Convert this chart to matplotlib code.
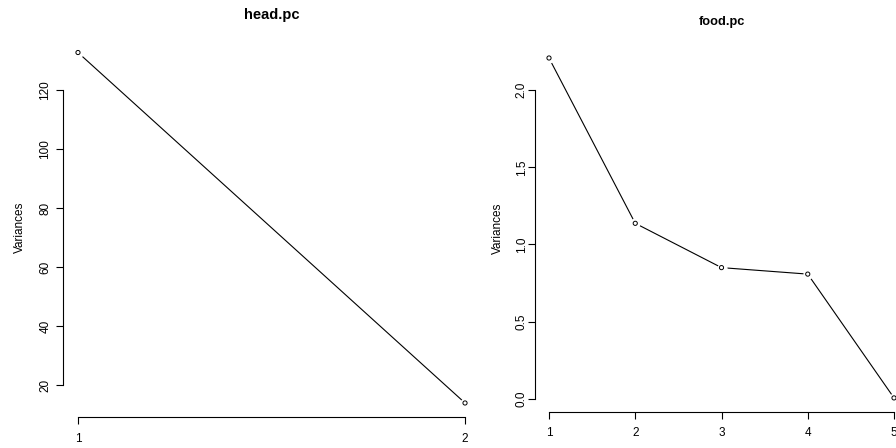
import matplotlib
matplotlib.use("Agg")
import matplotlib.pyplot as plt

plt.rcParams['font.family'] = ['Liberation Sans', 'DejaVu Sans']

# scree data
head_comp = [1, 2]
head_var = [132.7, 13.9]
head_yticks = [20, 40, 60, 80, 100, 120]

food_comp = [1, 2, 3, 4, 5]
food_var = [2.208, 1.137, 0.850, 0.808, 0.006]
food_yticks = [0.0, 0.5, 1.0, 1.5, 2.0]

W, H = 896, 448
fig = plt.figure(figsize=(W / 100, H / 100), dpi=100)


def box(left, right, top, bottom):
    return [left / W, 1 - bottom / H, (right - left) / W, (bottom - top) / H]


def scree(ax, x, y, yticks, ylabels, title, tsize, title_y, ypad, lpad):
    ax.plot(x, y, color='black', lw=0.8, zorder=1)
    ax.scatter(x, y, s=40, color='white', zorder=2)
    ax.scatter(x, y, s=9, facecolor='none', edgecolor='black', lw=0.7, zorder=3)
    pad_x = 0.04 * (max(x) - min(x))
    pad_y = 0.04 * (max(y) - min(y))
    ax.set_xlim(min(x) - pad_x, max(x) + pad_x)
    ax.set_ylim(min(y) - pad_y, max(y) + pad_y)
    for s in ['top', 'right']:
        ax.spines[s].set_visible(False)
    ax.spines['left'].set_bounds(yticks[0], yticks[-1])
    ax.spines['bottom'].set_bounds(x[0], x[-1])
    for s in ['left', 'bottom']:
        ax.spines[s].set_linewidth(0.8)
    ax.set_xticks(x)
    ax.set_xticklabels([str(v) for v in x])
    ax.set_yticks(yticks)
    ax.set_yticklabels(ylabels, rotation=90, va='center')
    ax.tick_params(length=5, width=0.8, labelsize=8.5)
    ax.tick_params(axis='x', pad=6.5)
    ax.tick_params(axis='y', pad=ypad)
    ax.set_ylabel('Variances', fontsize=8.5, labelpad=lpad)
    ax.patch.set_alpha(0)
    ax.set_title(title, fontsize=tsize, fontweight='bold', y=title_y)


ax1 = fig.add_axes(box(62.5, 480.5, 38.5, 417))
scree(ax1, head_comp, head_var, head_yticks, [str(v) for v in head_yticks],
      'head.pc', 10.5, 1.03, 3, 10)

ax2 = fig.add_axes(box(535.2, 907.8, 44.4, 411.5))
scree(ax2, food_comp, food_var, food_yticks, ['%.1f' % v for v in food_yticks],
      'food.pc', 9.2, 1.03, 0.5, 8)

fig.savefig('out.png', dpi=100)
